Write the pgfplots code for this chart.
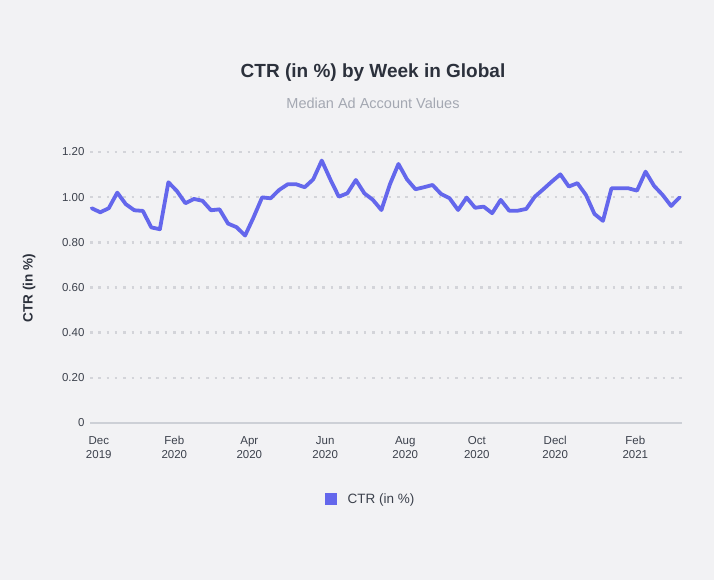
\documentclass[border=0pt]{standalone}
\usepackage{pgfplots}
\pgfplotsset{compat=1.18}
\usepackage{pgfplotstable}
\usepackage{fontspec}
\setmainfont{Liberation Sans}
\definecolor{bg}{HTML}{F2F2F4}
\definecolor{lineblue}{HTML}{6467EC}
\definecolor{titlec}{HTML}{2C313C}
\definecolor{subc}{HTML}{A4A8B2}
\definecolor{tickc}{HTML}{3C414C}
\definecolor{gridc}{HTML}{D3D4D9}
\definecolor{axisc}{HTML}{CDD0D6}

\pgfplotstableread{
x y
0 0.951
1 0.933
2 0.951
3 1.020
4 0.969
5 0.942
6 0.939
7 0.866
8 0.858
9 1.066
10 1.027
11 0.973
12 0.992
13 0.984
14 0.942
15 0.946
16 0.883
17 0.867
18 0.830
19 0.911
20 0.999
21 0.995
22 1.032
23 1.057
24 1.057
25 1.044
26 1.079
27 1.162
28 1.079
29 1.002
30 1.017
31 1.076
32 1.017
33 0.988
34 0.943
35 1.057
36 1.147
37 1.079
38 1.035
39 1.044
40 1.054
41 1.014
42 0.995
43 0.943
44 0.998
45 0.953
46 0.958
47 0.929
48 0.988
49 0.940
50 0.940
51 0.948
52 1.002
53 1.035
54 1.069
55 1.101
56 1.047
57 1.062
58 1.010
59 0.926
60 0.895
61 1.039
62 1.039
63 1.039
64 1.029
65 1.113
66 1.050
67 1.010
68 0.961
69 0.999
}\ctrdata

\begin{document}
\begin{tikzpicture}[x=1bp,y=1bp]
\fill[bg] (0,0) rectangle (714,580);
\useasboundingbox (0,0) rectangle (714,580);
\begin{axis}[
  at={(90bp,157bp)}, anchor=south west,
  scale only axis, width=592bp, height=271bp,
  xmin=-0.2, xmax=69.28, ymin=0, ymax=1.2,
  clip=false,
  axis line style={draw=none},
  major tick length=0pt,
  tick style={draw=none},
  /pgf/number format/assume math mode=true,
  xtick={0.83,9.7,18.5,27.4,36.8,45.2,54.4,63.8},
  xticklabels={Dec\\2019,Feb\\2020,Apr\\2020,Jun\\2020,Aug\\2020,Oct\\2020,Decl\\2020,Feb\\2021},
  xticklabel style={align=center, font=\fontsize{11.5bp}{14bp}\selectfont, text=tickc, yshift=-10bp},
  ytick={0.2,0.4,0.6,0.8,1.0,1.2},
  yticklabels={0.20,0.40,0.60,0.80,1.00,1.20},
  yticklabel style={font=\fontsize{11.5bp}{14bp}\selectfont, text=tickc, xshift=-2bp},
  ymajorgrids=true,
  grid style={gridc, line width=2.5bp, dash pattern=on 2.5bp off 5.8bp},
  extra y ticks={0},
  extra y tick labels={0},
  extra y tick style={ymajorgrids=true, grid style={solid, axisc, line width=2bp}},
  ylabel={CTR (in \%)},
  ylabel style={at={(axis description cs:-0.103,0.498)}, anchor=center, rotate=0,
    font=\fontsize{13.5bp}{16bp}\selectfont\bfseries, text=titlec},
  legend entries={CTR (in \%)},
  legend style={at={(0.474,-0.28)}, anchor=center, draw=none, fill=none,
    font=\fontsize{13.5bp}{16bp}\selectfont, text=tickc},
  legend image code/.code={\fill[lineblue, draw=none] (0bp,-6bp) rectangle (12bp,6bp);\path[draw=none, fill=none] (0bp,-0.1bp) rectangle (21bp,0.1bp);},
]
\addplot[lineblue, line width=3.8bp, line join=round, line cap=round] table[x=x,y=y] {\ctrdata};
\end{axis}
\node[font=\fontsize{19bp}{23bp}\selectfont\bfseries, text=titlec] at (373,507) {CTR (in \%) by Week in Global};
\node[font=\fontsize{14.5bp}{17bp}\selectfont, text=subc] at (373,477) {Median Ad Account Values};
\end{tikzpicture}
\end{document}
